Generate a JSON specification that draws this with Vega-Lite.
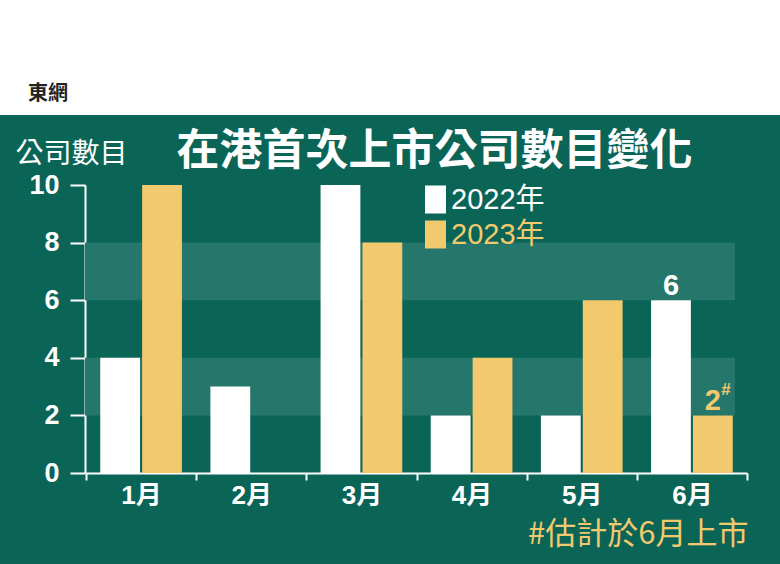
{
  "$schema": "https://vega.github.io/schema/vega-lite/v6.json",
  "width": 780,
  "height": 449,
  "autosize": {"type": "none"},
  "padding": {"top": 115, "left": 0, "right": 0, "bottom": 0},
  "background": "white",
  "config": {
    "view": {"fill": "#0b6557", "stroke": null},
    "font": "Liberation Sans, Noto Sans CJK TC"
  },
  "title": {
    "text": "東網",
    "anchor": "start",
    "frame": "group",
    "dx": 28,
    "offset": 11,
    "color": "#222222",
    "fontSize": 20,
    "fontWeight": "bold",
    "font": "Noto Sans CJK TC"
  },
  "datasets": {
    "bands": [
      {"value": 2, "value2": 4},
      {"value": 6, "value2": 8}
    ],
    "ipo": [
      {"month": "1月", "year": "2022年", "value": 4},
      {"month": "1月", "year": "2023年", "value": 10},
      {"month": "2月", "year": "2022年", "value": 3},
      {"month": "2月", "year": "2023年", "value": 0},
      {"month": "3月", "year": "2022年", "value": 10},
      {"month": "3月", "year": "2023年", "value": 8},
      {"month": "4月", "year": "2022年", "value": 2},
      {"month": "4月", "year": "2023年", "value": 4},
      {"month": "5月", "year": "2022年", "value": 2},
      {"month": "5月", "year": "2023年", "value": 6},
      {"month": "6月", "year": "2022年", "value": 6, "label": "6"},
      {"month": "6月", "year": "2023年", "value": 2, "label": "2", "note": "#"}
    ]
  },
  "layer": [
    {
      "data": {"name": "bands"},
      "mark": {"type": "rect", "color": "#25776b"},
      "encoding": {
        "x": {
          "datum": 0,
          "type": "quantitative",
          "scale": {"domain": [0, 1], "range": [85, 735]},
          "axis": {
            "orient": "top",
            "domain": false,
            "ticks": false,
            "labels": false,
            "grid": false,
            "title": "在港首次上市公司數目變化",
            "titleX": 434,
            "titleY": 49,
            "titleAlign": "center",
            "titleBaseline": "alphabetic",
            "titleColor": "white",
            "titleFontSize": 43,
            "titleFontWeight": "bold",
            "titleFont": "Noto Sans CJK TC"
          }
        },
        "x2": {"datum": 1},
        "y": {
          "field": "value",
          "type": "quantitative",
          "scale": {"domain": [0, 10], "range": [358, 70], "nice": false},
          "axis": {
            "orient": "left",
            "offset": -85,
            "values": [0, 2, 4, 6, 8, 10],
            "grid": false,
            "domainColor": "white",
            "domainWidth": 2,
            "tickColor": "white",
            "tickWidth": 2,
            "tickSize": 15,
            "labelColor": "white",
            "labelFontSize": 27,
            "labelFontWeight": "bold",
            "labelPadding": 11,
            "title": "公司數目",
            "titleAngle": 0,
            "titleX": -14,
            "titleY": 47,
            "titleAlign": "center",
            "titleBaseline": "alphabetic",
            "titleColor": "white",
            "titleFontSize": 28,
            "titleFontWeight": "normal",
            "titleFont": "Noto Sans CJK TC"
          }
        },
        "y2": {"field": "value2"}
      }
    },
    {
      "data": {"name": "ipo"},
      "encoding": {
        "x": {
          "field": "month",
          "type": "nominal",
          "sort": null,
          "scale": {"range": [86, 747], "paddingInner": 0, "paddingOuter": 0},
          "axis": {
            "orient": "bottom",
            "offset": -91,
            "tickBand": "extent",
            "labelAngle": 0,
            "grid": false,
            "domainColor": "white",
            "domainWidth": 2,
            "tickColor": "white",
            "tickWidth": 2,
            "tickSize": 7,
            "labelColor": "white",
            "labelFontSize": 26,
            "labelFontWeight": "bold",
            "labelPadding": 2,
            "title": "#估計於6月上市",
            "titleX": 748,
            "titleY": 70,
            "titleAlign": "right",
            "titleBaseline": "alphabetic",
            "titleColor": "#f3c96e",
            "titleFontSize": 31,
            "titleFontWeight": "normal",
            "titleFont": "Noto Sans CJK TC"
          }
        },
        "xOffset": {
          "field": "year",
          "type": "nominal",
          "scale": {"paddingInner": 0.05, "paddingOuter": 0.34}
        },
        "y": {"field": "value", "type": "quantitative"},
        "color": {
          "field": "year",
          "type": "nominal",
          "scale": {"domain": ["2022年", "2023年"], "range": ["#ffffff", "#f3c96e"]},
          "legend": {
            "orient": "none",
            "legendX": 421,
            "legendY": 70,
            "title": null,
            "symbolType": "M-0.75,-1H0.75V1H-0.75Z",
            "symbolSize": 784,
            "symbolStrokeWidth": 0,
            "symbolOpacity": 1,
            "labelFontSize": 29,
            "labelOffset": 1,
            "rowPadding": 5,
            "labelFont": "Liberation Sans, Noto Sans CJK TC",
            "encode": {
              "labels": {
                "update": {
                  "fill": {"signal": "datum.label === '2022年' ? '#ffffff' : '#f3c96e'"}
                }
              }
            }
          }
        }
      },
      "layer": [
        {"mark": {"type": "bar"}},
        {
          "transform": [{"filter": "datum.label != null"}],
          "mark": {"type": "text", "baseline": "alphabetic", "dy": -5, "fontSize": 29, "fontWeight": "bold"},
          "encoding": {"text": {"field": "label"}}
        },
        {
          "transform": [{"filter": "datum.note != null"}],
          "mark": {"type": "text", "baseline": "alphabetic", "dx": 13, "dy": -20, "fontSize": 17, "fontWeight": "bold"},
          "encoding": {"text": {"field": "note"}}
        }
      ]
    }
  ],
  "resolve": {"scale": {"x": "independent"}}
}
